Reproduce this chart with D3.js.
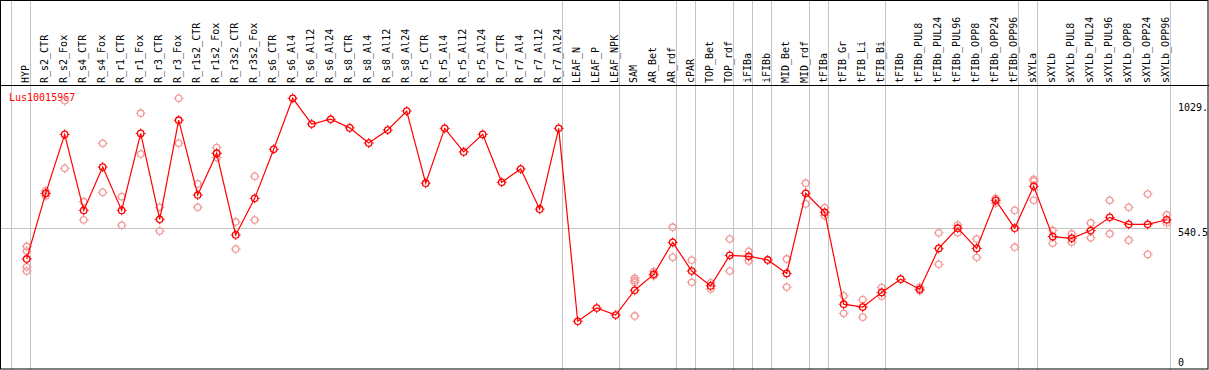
<!DOCTYPE html>
<html>
<head>
<meta charset="utf-8">
<style>
  body { margin: 0; background: #fff; }
  svg text { font-family: 'DejaVu Sans Mono', monospace; font-size: 10px; }
</style>
</head>
<body>
<svg width="1209" height="370"></svg>
<script src="https://d3js.org/d3.v7.min.js"></script>
<script>
var gene = 'Lus10015967'

var samples = ['HYP', 'R_s2_CTR', 'R_s2_Fox', 'R_s4_CTR', 'R_s4_Fox', 'R_r1_CTR', 'R_r1_Fox',
  'R_r3_CTR', 'R_r3_Fox', 'R_r1s2_CTR', 'R_r1s2_Fox', 'R_r3s2_CTR', 'R_r3s2_Fox', 'R_s6_CTR',
  'R_s6_Al4', 'R_s6_Al12', 'R_s6_Al24', 'R_s8_CTR', 'R_s8_Al4', 'R_s8_Al12', 'R_s8_Al24',
  'R_r5_CTR', 'R_r5_Al4', 'R_r5_Al12', 'R_r5_Al24', 'R_r7_CTR', 'R_r7_Al4', 'R_r7_Al12',
  'R_r7_Al24', 'LEAF_N', 'LEAF_P', 'LEAF_NPK', 'SAM', 'AR_Bet', 'AR_rdf', 'cPAR', 'TOP_Bet',
  'TOP_rdf', 'iFIBa', 'iFIBb', 'MID_Bet', 'MID_rdf', 'tFIBa', 'tFIB_Gr', 'tFIB_Li', 'tFIB_Bi',
  'tFIBb', 'tFIBb_PUL8', 'tFIBb_PUL24', 'tFIBb_PUL96', 'tFIBb_OPP8', 'tFIBb_OPP24', 'tFIBb_OPP96',
  'sXYLa', 'sXYLb', 'sXYLb_PUL8', 'sXYLb_PUL24', 'sXYLb_PUL96', 'sXYLb_OPP8', 'sXYLb_OPP24',
  'sXYLb_OPP96']

// number of samples in each tissue group (separated by grey lines)
var groupSizes = [1, 28, 3, 3, 1, 2, 1, 1, 2, 1, 3, 7, 1, 7]

var means = [413, 686, 931, 615, 795, 615, 935, 578, 990, 679, 852, 513, 665, 869, 1081,
  974, 994, 958, 895, 949, 1028, 728, 956, 858, 931, 732, 787, 620, 956, 154, 209, 180,
  283, 349, 482, 363, 301, 428, 424, 409, 353, 686, 607, 225, 213, 274, 329, 287, 457,
  541, 457, 657, 541, 715, 506, 499, 531, 586, 557, 557, 576]

var replicates = [
  [465, 446, 380, 363], [696, 685, 675], [1071, 790], [651, 576], [894, 690], [672, 553],
  [1019, 849], [628, 529], [1081, 894], [725, 628], [876, 854, 834], [567, 454], [757, 575],
  [], [], [], [], [], [], [], [], [], [], [], [], [], [], [], [], [], [], [],
  [333, 324, 316, 176], [360, 343], [545, 420], [408, 316], [314, 288], [496, 363],
  [445, 405], [], [413, 296], [728, 642], [626, 593], [260, 187], [244, 171], [294, 258],
  [], [296, 281], [522, 391], [554, 522], [496, 420], [665, 646], [615, 462],
  [744, 737, 657], [532, 478], [517, 482], [563, 501], [657, 518], [628, 491], [683, 432],
  [596, 563]
]

var yTicks = [0, 540.5, 1029]
var yTickLabels = ['0', '540.5', '1029.']

var svg = d3.select('svg'),
  width = +svg.attr('width'),
  height = +svg.attr('height'),
  headerBottom = 85.5,
  plot = {left: 11.3, right: 1170.3, top: 98.3, bottom: 358.3}

var x = d3.scaleBand().domain(samples).range([plot.left, plot.right])
var y = d3.scaleLinear().domain([0, 1081]).range([plot.bottom, plot.top])
var cx = function (s) { return x(s) + 15.4 }

var red = '#ff0000',
  pale = '#f29a9a',
  grid = '#c4c4c4'

// group separators
var seps = [x(samples[0])]
var end = 0
groupSizes.forEach(function (n) {
  end += n
  seps.push(x(samples[end - 1]) + x.bandwidth())
})

svg.append('g')
  .selectAll('line')
  .data(seps)
  .enter().append('line')
    .attr('x1', function (d) { return Math.round(d) + 0.5 })
    .attr('x2', function (d) { return Math.round(d) + 0.5 })
    .attr('y1', 0)
    .attr('y2', height)
    .attr('stroke', grid)
    .attr('stroke-width', 1)

// mid grid line
svg.append('line')
    .attr('x1', 0)
    .attr('x2', Math.round(plot.right) + 0.5)
    .attr('y1', Math.round(y(540.5)) + 0.5)
    .attr('y2', Math.round(y(540.5)) + 0.5)
    .attr('stroke', grid)

// frame and header line
svg.append('rect')
    .attr('x', 0.5)
    .attr('y', 0.5)
    .attr('width', width - 1.5)
    .attr('height', height - 1.5)
    .attr('fill', 'none')
    .attr('stroke', '#000')

svg.append('line')
    .attr('x1', 0)
    .attr('x2', width)
    .attr('y1', headerBottom)
    .attr('y2', headerBottom)
    .attr('stroke', '#000')

// sample labels
svg.append('g')
  .selectAll('text')
  .data(samples)
  .enter().append('text')
    .attr('transform', function (d) { return 'translate(' + (cx(d) + 1.8) + ',83) rotate(-90)' })
    .attr('fill', '#000')
    .text(function (d) { return d })

// y labels
svg.append('g')
  .selectAll('text')
  .data(yTicks)
  .enter().append('text')
    .attr('x', 1178)
    .attr('y', function (d, i) { return y(d) + (i === yTicks.length - 1 ? 0 : 8) })
    .attr('fill', '#000')
    .text(function (d, i) { return yTickLabels[i] })

svg.append('text')
    .attr('x', 9)
    .attr('y', 100.5)
    .attr('fill', red)
    .text(gene)

var stubs = 'M0,-3.2V-5M0,3.2V5M-3.2,0H-5M3.2,0H5'

function marker (sel, color) {
  sel.append('circle')
      .attr('r', 3.2)
      .attr('fill', 'none')
      .attr('stroke', color)
      .attr('stroke-width', 1.3)
  sel.append('path')
      .attr('d', stubs)
      .attr('stroke', color)
      .attr('stroke-width', 1)
}

// replicate points
var repData = []
replicates.forEach(function (r, i) {
  r.forEach(function (v) { repData.push({sample: samples[i], value: v}) })
})

svg.append('g')
  .selectAll('g')
  .data(repData)
  .enter().append('g')
    .attr('transform', function (d) { return 'translate(' + cx(d.sample) + ',' + y(d.value) + ')' })
    .call(marker, pale)

// mean line
var line = d3.line()
    .x(function (d, i) { return cx(samples[i]) })
    .y(function (d) { return y(d) })

svg.append('path')
    .datum(means)
    .attr('fill', 'none')
    .attr('stroke', red)
    .attr('stroke-width', 1.2)
    .attr('d', line)

svg.append('g')
  .selectAll('g')
  .data(means)
  .enter().append('g')
    .attr('transform', function (d, i) { return 'translate(' + cx(samples[i]) + ',' + y(d) + ')' })
    .call(marker, red)
</script>
</body>
</html>
